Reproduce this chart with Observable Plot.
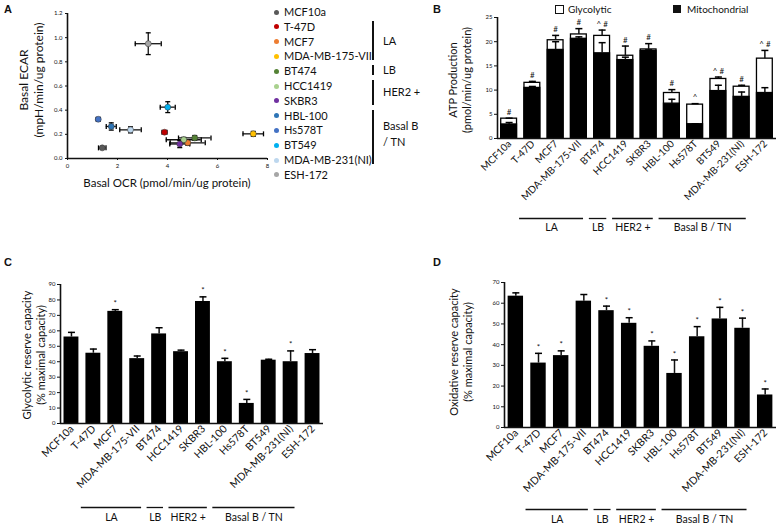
<!DOCTYPE html>
<html><head><meta charset="utf-8">
<script src="https://cdn.jsdelivr.net/npm/d3@7"></script>
<script src="https://cdn.jsdelivr.net/npm/@observablehq/plot@0.6"></script>
<style>
body{margin:0;background:#fff;font-family:Lato,"Open Sans",sans-serif;color:#111}
#root{position:relative;width:778px;height:527px;overflow:hidden;background:#fff}
#root svg{position:absolute;overflow:visible}
.t{position:absolute;white-space:nowrap;line-height:1}
.letter{font-family:"Liberation Sans",Arial,sans-serif;font-weight:bold;font-size:11px}
.ylab{position:absolute;white-space:nowrap;text-align:center;transform:translate(-50%,-50%) rotate(-90deg);}
</style></head><body><div id="root"></div>
<script>
// ---------- data ----------
const cellLines = ["MCF10a","T-47D","MCF7","MDA-MB-175-VII","BT474","HCC1419","SKBR3","HBL-100","Hs578T","BT549","MDA-MB-231(NI)","ESH-172"];
const lineColors = ["#595959","#c00000","#ed7d31","#ffc000","#548235","#a9d18e","#7030a0","#2e75b6","#4472c4","#00b0f0","#bdd7ee","#a6a6a6"];

// Panel A: basal OCR vs basal ECAR
const basalOCR    = [1.39, 3.88, 4.81, 7.43, 5.09, 4.65, 4.49, 1.75, 1.23, 4.01, 2.52, 3.23];
const basalOCRerr = [0.15, 0.10, 0.70, 0.41, 0.65, 0.70, 0.40, 0.20, 0.08, 0.30, 0.43, 0.52];
const basalECAR   = [0.088,0.218,0.130,0.204,0.170,0.155,0.120,0.265,0.325,0.425,0.237,0.950];
const basalECARerr= [0.008,0.010,0.020,0.020,0.020,0.020,0.030,0.030,0.010,0.045,0.025,0.090];
const ocrTicks  = [0, 2, 4, 6, 8];
const ecarTicks = [0, 0.2, 0.4, 0.6, 0.8, 1.0, 1.2];

// Panel B: ATP production
const atpTotal    = [4.1, 11.5, 20.3, 21.5, 21.2, 17.1, 18.4, 9.4, 7.0, 12.3, 10.7, 16.5];
const atpTotalErr = [0.1, 0.3, 1.0, 1.2, 1.2, 2.0, 1.2, 0.7, 0.2, 0.4, 0.3, 1.7];
const atpMito     = [2.9, 10.45, 18.3, 20.6, 17.6, 16.2, 18.1, 7.2, 2.95, 9.8, 8.6, 9.4];
const atpMitoErr  = [0.4, 0.3, 1.7, 0.4, 2.2, 0.6, 0.2, 0.9, 0.1, 1.2, 1.0, 1.1];
const atpSig      = ["#","#","#","#","^ #","#","#","#","^","^ #","#","^ #"];
const atpTicks    = [0, 5, 10, 15, 20, 25];

// Panel C: glycolytic reserve capacity
const glycoReserve    = [56, 45.5, 72.6, 42, 58, 46.5, 79, 40, 13, 41, 40, 45.3];
const glycoReserveErr = [3, 2.7, 1.1, 1.7, 4, 1, 3, 2.2, 2.6, 0.6, 7, 2.5];
const glycoSig        = ["","","*","","","","*","*","*","","*",""];
const glycoTicks      = [0,10,20,30,40,50,60,70,80,90];

// Panel D: oxidative reserve capacity
const oxidReserve    = [63.4, 31.1, 34.7, 61, 56.4, 50.3, 39.2, 26.1, 43.8, 52.4, 47.9, 15.7];
const oxidReserveErr = [1.6, 4.7, 2.3, 3.2, 2.2, 2.7, 2.6, 6.5, 4.9, 5.6, 4.9, 2.9];
const oxidSig        = ["","*","*","","*","*","*","*","*","*","*","*"];
const oxidTicks      = [0,10,20,30,40,50,60,70];

// Subtype groups
const subtypeLabels = ["LA","LB","HER2 +","Basal B / TN"];
const subtypeFirst  = [1, 4, 5, 7];
const subtypeLast   = [3, 4, 6, 10];

// ---------- helpers ----------
const root = document.getElementById("root");
const FONT = "Lato, 'Open Sans', sans-serif";
function put(node, left, top) { node.style.left = left + "px"; node.style.top = top + "px"; root.appendChild(node); return node; }
function txt(html, left, top, css) {
  const d = document.createElement("div"); d.className = "t"; d.innerHTML = html;
  if (css) Object.assign(d.style, css);
  return put(d, left, top);
}
function ylab(lines, cx, cy, fs, lh) {
  const d = document.createElement("div"); d.className = "ylab";
  d.style.fontSize = fs + "px"; d.style.lineHeight = lh + "px";
  d.innerHTML = lines.join("<br>");
  return put(d, cx, cy);
}
const hCap = {draw(ctx, size) { const r = Math.sqrt(size / Math.PI); ctx.moveTo(-r, 0); ctx.lineTo(r, 0); }};
const vCap = {draw(ctx, size) { const r = Math.sqrt(size / Math.PI); ctx.moveTo(0, -r); ctx.lineTo(0, r); }};
const idx = cellLines.map((_, i) => i);
const groupIdx = subtypeLabels.map((_, i) => i);
const gx1 = g => subtypeFirst[g] - 0.55, gx2 = g => subtypeLast[g] + 0.2;

// ---------- Panel A ----------
const A = Plot.plot({
  width: 275, height: 200, marginLeft: 67, marginRight: 8, marginTop: 13, marginBottom: 42,
  x: {domain: [0, 8]}, y: {domain: [0, 1.2]},
  style: {fontFamily: FONT, fontSize: "6px", background: "transparent", overflow: "visible"},
  marks: [
    Plot.axisX({ticks: ocrTicks, tickSize: 2, tickPadding: 3, label: null, fontSize: 6}),
    Plot.axisY({ticks: ecarTicks, tickSize: 2, tickPadding: 3, label: null, fontSize: 6, tickFormat: d3.format(".1f")}),
    Plot.ruleX([0], {strokeWidth: 1.6}),
    Plot.ruleY([0], {strokeWidth: 1.6}),
    Plot.ruleY(idx, {y: i => basalECAR[i], x1: i => basalOCR[i] - basalOCRerr[i], x2: i => basalOCR[i] + basalOCRerr[i], strokeWidth: 1.3}),
    Plot.ruleX(idx, {x: i => basalOCR[i], y1: i => basalECAR[i] - basalECARerr[i], y2: i => basalECAR[i] + basalECARerr[i], strokeWidth: 1.3}),
    Plot.dot(idx, {x: i => basalOCR[i] - basalOCRerr[i], y: i => basalECAR[i], symbol: vCap, r: 2.5, stroke: "black", fill: "none", strokeWidth: 1.3}),
    Plot.dot(idx, {x: i => basalOCR[i] + basalOCRerr[i], y: i => basalECAR[i], symbol: vCap, r: 2.5, stroke: "black", fill: "none", strokeWidth: 1.3}),
    Plot.dot(idx, {x: i => basalOCR[i], y: i => basalECAR[i] - basalECARerr[i], symbol: hCap, r: 2.5, stroke: "black", fill: "none", strokeWidth: 1.3}),
    Plot.dot(idx, {x: i => basalOCR[i], y: i => basalECAR[i] + basalECARerr[i], symbol: hCap, r: 2.5, stroke: "black", fill: "none", strokeWidth: 1.3}),
    Plot.dot(idx, {x: i => basalOCR[i], y: i => basalECAR[i], r: 3, fill: i => lineColors[i], stroke: "#333", strokeWidth: 0.5})
  ]
});
put(A, 0, 0);
txt("A", 4, 4, {}).className = "t letter";
ylab(["Basal ECAR", "(mpH/min/ug protein)"], 31, 80, 12, 15);
txt("Basal OCR (pmol/min/ug protein)", 167, 177, {fontSize: "11.5px", transform: "translateX(-50%)"});

// legend A
cellLines.forEach((name, i) => {
  const y = 12 + i * 14.8;
  const dot = document.createElement("div");
  Object.assign(dot.style, {position: "absolute", width: "5px", height: "5px", borderRadius: "50%", background: lineColors[i]});
  put(dot, 274, y - 2.5);
  txt(name, 284, y - 6, {fontSize: "11px"});
});
const legRows = i => 12 + i * 14.8;
groupIdx.forEach(g => {
  const top = legRows(subtypeFirst[g]) - 6, bot = legRows(subtypeLast[g]) + 4;
  const ln = document.createElement("div");
  Object.assign(ln.style, {position: "absolute", width: "1.5px", height: (bot - top) + "px", background: "#111"});
  put(ln, 372, top);
  const mid = (top + bot) / 2;
  if (g === 3) {
    txt("Basal B", 383, mid - 17, {fontSize: "11px"});
    txt("/ TN", 383, mid - 1, {fontSize: "11px"});
  } else {
    txt(subtypeLabels[g], 383, mid - 6, {fontSize: "11px"});
  }
});

// ---------- bar-panel builder ----------
function barPanel(o) {
  const marks = [
    ...o.bars,
    Plot.ruleY([0], {strokeWidth: 1.6}),
    Plot.ruleX([-0.5], {strokeWidth: 1.6}),
    Plot.axisY({ticks: o.ticks, tickSize: 3, tickPadding: 2, label: null, fontSize: 6}),
    Plot.ruleX(idx, {x: i => i, y1: i => o.top[i], y2: i => o.top[i] + o.err[i], strokeWidth: 1.5}),
    Plot.dot(idx, {x: i => i, y: i => o.top[i] + o.err[i], symbol: hCap, r: 3.5, stroke: "black", fill: "none", strokeWidth: 1.5}),
    Plot.text(idx, {x: i => i, y: i => o.top[i] + o.err[i], text: i => o.sig[i], dy: -6, fontSize: 8}),
    Plot.text(idx, {x: i => i, frameAnchor: "bottom", text: i => cellLines[i], rotate: -45, textAnchor: "end", dx: o.ldx, dy: o.ldy, fontSize: o.lfs}),
    Plot.ruleY(groupIdx, {x1: gx1, x2: gx2, y: () => 0, dy: o.gdy, strokeWidth: 1.3}),
    Plot.text(groupIdx, {x: g => (gx1(g) + gx2(g)) / 2, frameAnchor: "bottom", dy: o.gtdy, text: g => subtypeLabels[g], fontSize: o.gfs})
  ];
  return Plot.plot({
    width: o.width, height: o.height, marginLeft: o.ml, marginRight: o.mr, marginTop: o.mt, marginBottom: o.mb,
    x: {domain: [-0.5, cellLines.length - 0.5], axis: null},
    y: {domain: [0, o.ticks[o.ticks.length - 1]], axis: null},
    style: {fontFamily: FONT, fontSize: "6px", background: "transparent", overflow: "visible"},
    marks
  });
}
const hw = 0.34;

// ---------- Panel B ----------
const B = barPanel({
  width: 358, height: 240, ml: 77, mr: 2, mt: 17, mb: 102, ticks: atpTicks,
  top: atpTotal, err: atpTotalErr, sig: atpSig,
  ldx: 3, ldy: 6, lfs: 10, gdy: 80, gtdy: 92, gfs: 10.5,
  bars: [
    Plot.rect(idx, {x1: i => i - hw, x2: i => i + hw, y1: 0, y2: i => atpTotal[i], fill: "white", stroke: "black", strokeWidth: 1.3}),
    Plot.rect(idx, {x1: i => i - hw, x2: i => i + hw, y1: 0, y2: i => atpMito[i], fill: "black", stroke: "black", strokeWidth: 1.3}),
    Plot.ruleX(idx, {x: i => i, y1: i => atpMito[i], y2: i => atpMito[i] + atpMitoErr[i], strokeWidth: 1.5}),
    Plot.dot(idx, {x: i => i, y: i => atpMito[i] + atpMitoErr[i], symbol: hCap, r: 3.5, stroke: "black", fill: "none", strokeWidth: 1.5})
  ]
});
put(B, 420, 0);
txt("B", 433, 4, {}).className = "t letter";
ylab(["ATP Production", "(pmol/min/ug protein)"], 460, 80, 11, 14);
// legend B
const boxW = document.createElement("div");
Object.assign(boxW.style, {position: "absolute", width: "7px", height: "7px", border: "1px solid #111", background: "#fff"});
put(boxW, 555, 5);
txt("Glycolytic", 568, 4, {fontSize: "10px"});
const boxK = document.createElement("div");
Object.assign(boxK.style, {position: "absolute", width: "8px", height: "8px", background: "#111"});
put(boxK, 673, 5);
txt("Mitochondrial", 687, 4, {fontSize: "10px"});

// ---------- Panel C ----------
const C = barPanel({
  width: 390, height: 257, ml: 60, mr: 67, mt: 14, mb: 104, ticks: glycoTicks,
  top: glycoReserve, err: glycoReserveErr, sig: glycoSig,
  ldx: 3, ldy: 6, lfs: 10.5, gdy: 84, gtdy: 97, gfs: 10.5,
  bars: [
    Plot.rect(idx, {x1: i => i - hw, x2: i => i + hw, y1: 0, y2: i => glycoReserve[i], fill: "black"})
  ]
});
put(C, 0, 270);
txt("C", 4, 257, {}).className = "t letter";
ylab(["Glycolytic reserve capacity", "(% maximal capacity)"], 34, 355, 11, 14);

// ---------- Panel D ----------
const D = barPanel({
  width: 388, height: 257, ml: 114, mr: 2, mt: 12, mb: 100, ticks: oxidTicks,
  top: oxidReserve, err: oxidReserveErr, sig: oxidSig,
  ldx: 3, ldy: 6, lfs: 10.5, gdy: 82, gtdy: 95, gfs: 10.5,
  bars: [
    Plot.rect(idx, {x1: i => i - hw, x2: i => i + hw, y1: 0, y2: i => oxidReserve[i], fill: "black"})
  ]
});
put(D, 390, 270);
txt("D", 433, 257, {}).className = "t letter";
ylab(["Oxidative reserve capacity", "(% maximal capacity)"], 461, 352, 11, 14);
</script></body></html>
